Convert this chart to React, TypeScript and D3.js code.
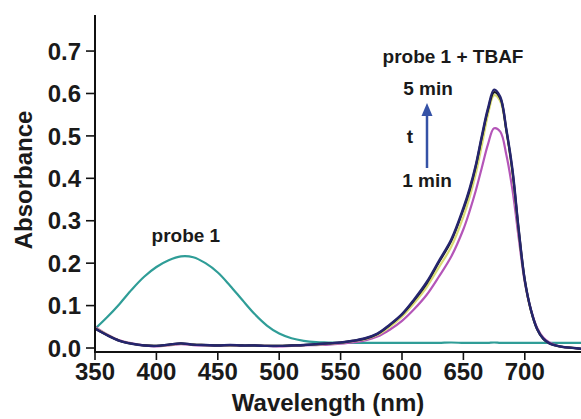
import React from "react";
import * as d3 from "d3";

const wavelengths = [350, 360, 370, 380, 390, 400, 410, 420, 430, 440, 450, 460, 470, 480, 490, 500, 510, 520, 530, 540, 550, 560, 570, 580, 590, 600, 610, 620, 630, 640, 650, 655, 660, 665, 670, 675, 680, 685, 690, 695, 700, 705, 710, 715, 720, 725, 730, 740, 750];

const probe1 = [0.045, 0.073, 0.104, 0.138, 0.168, 0.191, 0.207, 0.216, 0.214, 0.2, 0.178, 0.147, 0.113, 0.08, 0.053, 0.034, 0.023, 0.017, 0.014, 0.013, 0.012, 0.012, 0.012, 0.012, 0.012, 0.012, 0.012, 0.012, 0.012, 0.013, 0.012, 0.012, 0.012, 0.012, 0.012, 0.013, 0.012, 0.012, 0.012, 0.012, 0.012, 0.012, 0.012, 0.012, 0.012, 0.012, 0.012, 0.012, 0.012];

const tbaf1min = [0.05, 0.032, 0.018, 0.011, 0.006, 0.004, 0.006, 0.009, 0.007, 0.006, 0.005, 0.006, 0.005, 0.005, 0.005, 0.004, 0.005, 0.006, 0.007, 0.008, 0.01, 0.013, 0.018, 0.027, 0.043, 0.064, 0.092, 0.125, 0.168, 0.215, 0.28, 0.322, 0.37, 0.425, 0.48, 0.518, 0.51, 0.455, 0.372, 0.26, 0.155, 0.09, 0.048, 0.025, 0.013, 0.007, 0.003, 0.0, -0.003];

const tbaf2min = [0.047, 0.031, 0.017, 0.01, 0.006, 0.005, 0.007, 0.01, 0.008, 0.007, 0.006, 0.006, 0.006, 0.005, 0.005, 0.005, 0.006, 0.007, 0.008, 0.01, 0.012, 0.016, 0.021, 0.031, 0.05, 0.074, 0.106, 0.143, 0.19, 0.238, 0.31, 0.355, 0.41, 0.478, 0.55, 0.596, 0.582, 0.51, 0.41, 0.275, 0.158, 0.088, 0.045, 0.022, 0.011, 0.006, 0.003, 0.0, -0.003];

const tbaf3min = [0.046, 0.03, 0.017, 0.01, 0.006, 0.005, 0.008, 0.011, 0.008, 0.007, 0.006, 0.007, 0.006, 0.006, 0.005, 0.005, 0.006, 0.007, 0.009, 0.011, 0.013, 0.017, 0.022, 0.033, 0.054, 0.079, 0.113, 0.152, 0.202, 0.252, 0.327, 0.371, 0.427, 0.496, 0.561, 0.603, 0.589, 0.513, 0.416, 0.279, 0.16, 0.089, 0.045, 0.022, 0.011, 0.006, 0.003, 0.0, -0.003];

const tbaf5min = [0.046, 0.03, 0.017, 0.01, 0.006, 0.005, 0.008, 0.011, 0.008, 0.007, 0.006, 0.007, 0.006, 0.006, 0.005, 0.005, 0.006, 0.007, 0.009, 0.011, 0.013, 0.017, 0.023, 0.034, 0.055, 0.08, 0.115, 0.155, 0.205, 0.255, 0.33, 0.375, 0.43, 0.5, 0.565, 0.609, 0.592, 0.515, 0.42, 0.28, 0.16, 0.09, 0.045, 0.022, 0.011, 0.006, 0.003, 0.0, -0.003];

const seriesList = [
  { name: "probe 1", values: probe1, color: "#2f9d97", width: 2.2 },
  { name: "1 min", values: tbaf1min, color: "#b455b8", width: 2.2 },
  { name: "2 min", values: tbaf2min, color: "#d9dc74", width: 2.2 },
  { name: "3 min", values: tbaf3min, color: "#1a1a1a", width: 2.2 },
  { name: "5 min", values: tbaf5min, color: "#25256e", width: 2.4 },
];

const xTicks = [350, 400, 450, 500, 550, 600, 650, 700];
const yTicks = [0.0, 0.1, 0.2, 0.3, 0.4, 0.5, 0.6, 0.7];

const W = 581;
const H = 419;
const FONT = "'Liberation Sans', Arial, Helvetica, sans-serif";

export default function App() {
  const x = d3.scaleLinear().domain([350, 750]).range([95, 586.2]);
  const y = d3.scaleLinear().domain([-0.0094, 0.785]).range([352, 15]);

  const line = (vals: number[]) =>
    d3
      .line<number>()
      .x((_, i) => x(wavelengths[i]))
      .y((v) => y(v))
      .curve(d3.curveCatmullRom.alpha(0.5))(vals) as string;

  const x0 = x.range()[0];
  const y0 = y.range()[0];

  return (
    <svg
      width={W}
      height={H}
      style={{ position: "absolute", left: 0, top: 0, background: "#fff" }}
      fontFamily={FONT}
    >
      <rect x={0} y={0} width={W} height={H} fill="#fff" />
      {seriesList.map((s) => (
        <path key={s.name} d={line(s.values)} fill="none" stroke={s.color} strokeWidth={s.width} strokeLinejoin="round" />
      ))}

      {/* axes */}
      <line x1={x0} x2={x0} y1={y(0.785)} y2={y0 + 1} stroke="#111" strokeWidth={2} />
      <line x1={x0 - 1} x2={W} y1={y0} y2={y0} stroke="#111" strokeWidth={2} />
      {yTicks.map((t) => (
        <g key={t}>
          <line x1={x0 - 9} x2={x0} y1={y(t)} y2={y(t)} stroke="#111" strokeWidth={1.6} />
          <text x={x0 - 14} y={y(t)} dy="0.36em" textAnchor="end" fontSize={24} fontWeight="bold" fill="#1a1a1a">
            {t.toFixed(1)}
          </text>
        </g>
      ))}
      {xTicks.map((t) => (
        <g key={t}>
          <line x1={x(t)} x2={x(t)} y1={y0} y2={y0 + 8} stroke="#111" strokeWidth={1.6} />
          <text x={x(t)} y={380} textAnchor="middle" fontSize={24} fontWeight="bold" fill="#1a1a1a">
            {t}
          </text>
        </g>
      ))}
      <text x={328} y={411} textAnchor="middle" fontSize={24} fontWeight="bold" fill="#1a1a1a">
        Wavelength (nm)
      </text>
      <text
        transform={`translate(32,180) rotate(-90)`}
        textAnchor="middle"
        fontSize={24}
        fontWeight="bold"
        fill="#1a1a1a"
      >
        Absorbance
      </text>

      {/* annotations */}
      <text x={x(424)} y={242} textAnchor="middle" fontSize={19} fontWeight="bold" fill="#1a1a1a">
        probe 1
      </text>
      <text x={453} y={63} textAnchor="middle" fontSize={19} fontWeight="bold" fill="#1a1a1a">
        probe 1 + TBAF
      </text>
      <text x={428} y={95} textAnchor="middle" fontSize={19} fontWeight="bold" fill="#1a1a1a">
        5 min
      </text>
      <text x={410} y={143} textAnchor="middle" fontSize={19} fontWeight="bold" fill="#1a1a1a">
        t
      </text>
      <text x={427} y={187} textAnchor="middle" fontSize={19} fontWeight="bold" fill="#1a1a1a">
        1 min
      </text>
      <line x1={427} x2={427} y1={168} y2={112} stroke="#3552a6" strokeWidth={2.5} />
      <path d="M427,103 L421.5,116 L432.5,116 Z" fill="#3552a6" />
    </svg>
  );
}
